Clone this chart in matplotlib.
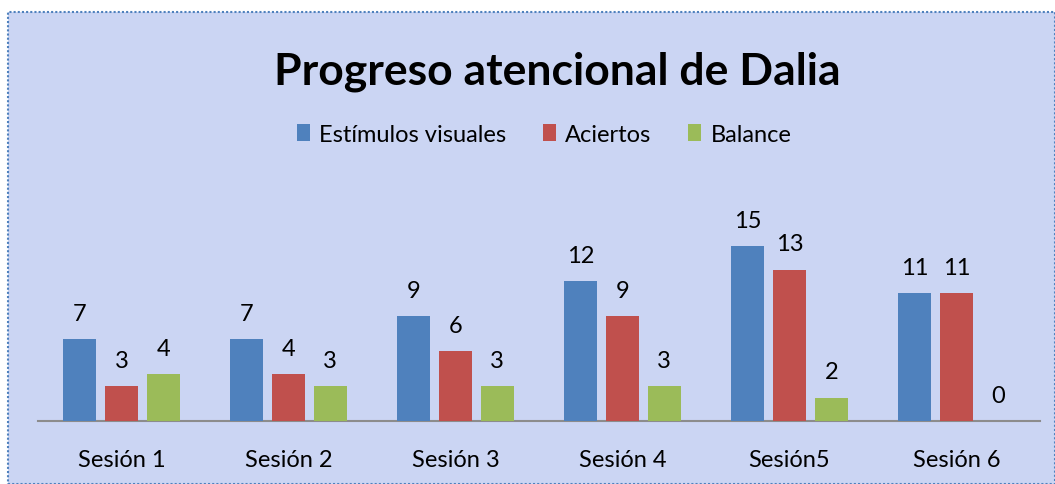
import numpy as np
import matplotlib
matplotlib.use('Agg')
import matplotlib.pyplot as plt
from matplotlib.patches import Rectangle, Patch

# Données
sesiones = ['Sesión 1', 'Sesión 2', 'Sesión 3', 'Sesión 4', 'Sesión5', 'Sesión 6']
estimulos = [7, 7, 9, 12, 15, 11]
aciertos = [3, 4, 6, 9, 13, 11]
balance = [4, 3, 3, 3, 2, 0]

series_names = ['Estímulos visuales', 'Aciertos', 'Balance']
colores = ['#4F81BD', '#C0504D', '#9BBB59']

plt.rcParams['font.family'] = ['Lato', 'DejaVu Sans']

W, H = 1055, 485
fig = plt.figure(figsize=(W / 100, H / 100), dpi=100)
fig.patch.set_facecolor('white')

# Fond du graphique avec bordure pointillée
bg = Rectangle((8 / W, 0), 1 - 8 / W, 1 - 13 / H, transform=fig.transFigure,
               facecolor='#CBD5F3', edgecolor='#4F81BD', linestyle=(0, (1, 1)),
               linewidth=1.5, zorder=-10)
fig.patches.append(bg)

ax = fig.add_axes([38 / W, (H - 422) / H, 1002 / W, 233 / H])
ax.set_facecolor('none')
ax.set_zorder(1)

x = np.arange(len(sesiones))
largeur = 0.2
offsets = [-0.25, 0, 0.25]
for serie, off, col in zip([estimulos, aciertos, balance], offsets, colores):
    bars = ax.bar(x + off, serie, width=largeur, color=col, zorder=3)
    for b, v in zip(bars, serie):
        ax.annotate(str(v), (b.get_x() + b.get_width() / 2, b.get_height()),
                    xytext=(0, 11), textcoords='offset points',
                    ha='center', va='bottom', fontsize=17, color='black')

ax.set_xlim(-0.5, len(sesiones) - 0.5)
ax.set_ylim(0, 20)
ax.set_xticks(x)
ax.set_xticklabels(sesiones, fontsize=17)
ax.tick_params(axis='x', length=0, pad=20)
ax.set_yticks([])
for s in ['top', 'left', 'right']:
    ax.spines[s].set_visible(False)
ax.spines['bottom'].set_color('#8C8C8C')
ax.spines['bottom'].set_linewidth(1.5)

# Titre
fig.text(557 / W, 1 - 72 / H, 'Progreso atencional de Dalia', ha='center', va='center',
         fontsize=32, fontweight='bold')

# Légende
handles = [Patch(facecolor=c, label=n) for c, n in zip(colores, series_names)]
fig.legend(handles=handles, loc='center', bbox_to_anchor=(544 / W, 1 - 135 / H), ncol=3,
           frameon=False, fontsize=17, handlelength=0.55, handleheight=0.7,
           handletextpad=0.4, columnspacing=1.55)

fig.savefig('out.png', dpi=100)
